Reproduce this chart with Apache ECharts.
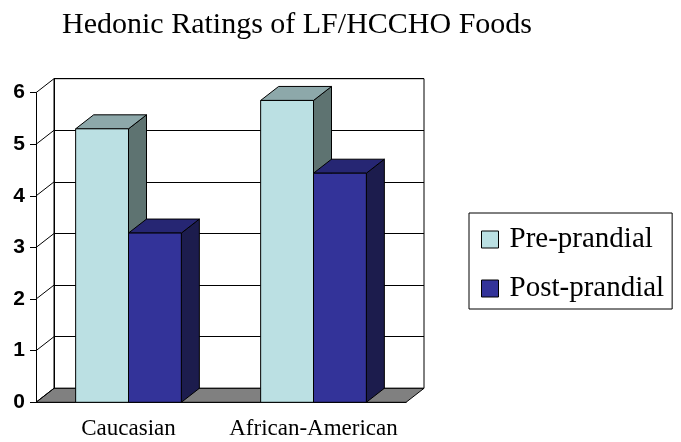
<!DOCTYPE html>
<html>
<head>
<meta charset="utf-8">
<script src="https://cdn.jsdelivr.net/npm/echarts@6/dist/echarts.min.js"></script>
<style>html,body{margin:0;padding:0;background:#fff}#c{width:681px;height:442px}</style>
</head>
<body>
<div id="c"></div>
<script>
var categories = ['Caucasian', 'African-American'];
var preValues = [5.3, 5.85];
var postValues = [3.28, 4.44];
var yTicks = [0, 1, 2, 3, 4, 5, 6];
var seriesNames = ['Pre-prandial', 'Post-prandial'];

var DX = 18, DY = -14;
var styles = [
  {front: '#BBE0E3', top: '#8DA8AA', side: '#5E7371'},
  {front: '#333399', top: '#262673', side: '#1C1C4D'}
];

function barRender(idx) {
  return function (params, api) {
    var c = api.value(0), v = api.value(1);
    var band = api.size([1, 0])[0];
    var w = band / 3.5;
    var p = api.coord([c, v]);
    var b = api.coord([c, 0]);
    var left = idx === 0 ? p[0] - w : p[0];
    var top = p[1], base = b[1];
    var st = styles[idx];
    var stroke = {stroke: '#000', lineWidth: 1};
    return {
      type: 'group',
      children: [
        {type: 'polygon', shape: {points: [[left + w, top], [left + w + DX, top + DY], [left + w + DX, base + DY], [left + w, base]]},
          style: Object.assign({fill: st.side}, stroke)},
        {type: 'polygon', shape: {points: [[left, top], [left + DX, top + DY], [left + w + DX, top + DY], [left + w, top]]},
          style: Object.assign({fill: st.top}, stroke)},
        {type: 'rect', shape: {x: left, y: top, width: w, height: base - top},
          style: Object.assign({fill: st.front}, stroke)}
      ]
    };
  };
}

var chart = echarts.init(document.getElementById('c'), null, {renderer: 'canvas'});
var serif = 'Liberation Serif, Times New Roman, serif';
var sans = 'Liberation Sans, Arial, sans-serif';

chart.setOption({
  animation: false,
  backgroundColor: '#fff',
  title: {
    text: 'Hedonic Ratings of LF/HCCHO Foods',
    left: 57, top: 5,
    textStyle: {fontFamily: serif, fontSize: 30, fontWeight: 'normal', color: '#000'}
  },
  legend: {
    orient: 'vertical',
    left: 469, top: 213,
    padding: [12, 8, 6, 12],
    itemGap: 20,
    itemWidth: 17, itemHeight: 17,
    icon: 'rect',
    borderColor: '#000', borderWidth: 1,
    itemStyle: {borderColor: '#000', borderWidth: 1},
    textStyle: {fontFamily: serif, fontSize: 29, color: '#000', padding: [0, 0, 0, 6]},
    data: seriesNames
  },
  grid: [
    {left: 36, right: 275, top: 92.7, bottom: 39.7},
    {left: 54, right: 257, top: 78.7, bottom: 53.7, show: true, borderColor: '#000', borderWidth: 1, backgroundColor: '#fff'}
  ],
  xAxis: [
    {type: 'category', gridIndex: 0, data: categories,
      axisLine: {lineStyle: {color: '#000', width: 1}},
      axisTick: {length: 7, lineStyle: {color: '#000'}},
      axisLabel: {fontFamily: serif, fontSize: 23, color: '#000', margin: 15, interval: 0},
      splitLine: {show: false}},
    {type: 'category', gridIndex: 1, data: categories, show: false}
  ],
  yAxis: [
    {type: 'value', gridIndex: 0, min: 0, max: 6, interval: 1,
      axisLine: {show: true, lineStyle: {color: '#000', width: 1}},
      axisTick: {show: true, length: 6, lineStyle: {color: '#000'}},
      axisLabel: {fontFamily: sans, fontSize: 21, fontWeight: 'bold', color: '#000', margin: 11},
      splitLine: {show: false}},
    {type: 'value', gridIndex: 1, min: 0, max: 6, interval: 1,
      axisLine: {show: true, lineStyle: {color: '#000', width: 1}},
      axisTick: {show: false}, axisLabel: {show: false},
      splitLine: {show: true, lineStyle: {color: '#000', width: 1}}}
  ],
  series: [
    {type: 'custom', name: 'floor', xAxisIndex: 0, yAxisIndex: 0, z: 1, silent: true,
      data: [[0, 0]],
      renderItem: function (params, api) {
        var cs = params.coordSys;
        var y0 = api.coord([0, 0])[1];
        var x0 = cs.x, x1 = cs.x + cs.width;
        return {type: 'polygon', shape: {points: [[x0, y0], [x1, y0], [x1 + DX, y0 + DY], [x0 + DX, y0 + DY]]},
          style: {fill: '#808080', stroke: '#000', lineWidth: 1}};
      }},
    {type: 'custom', name: 'diag', xAxisIndex: 0, yAxisIndex: 0, z: 1, silent: true,
      data: yTicks.map(function (t) { return [0, t]; }),
      renderItem: function (params, api) {
        var cs = params.coordSys;
        var y = api.coord([0, api.value(1)])[1];
        return {type: 'line', shape: {x1: cs.x, y1: y, x2: cs.x + DX, y2: y + DY},
          style: {stroke: '#000', lineWidth: 1}};
      }},
    {type: 'custom', name: seriesNames[0], xAxisIndex: 0, yAxisIndex: 0, z: 3,
      itemStyle: {color: styles[0].front},
      encode: {x: 0, y: 1},
      data: categories.map(function (c, i) { return [i, preValues[i]]; }),
      renderItem: barRender(0)},
    {type: 'custom', name: seriesNames[1], xAxisIndex: 0, yAxisIndex: 0, z: 4,
      itemStyle: {color: styles[1].front},
      encode: {x: 0, y: 1},
      data: categories.map(function (c, i) { return [i, postValues[i]]; }),
      renderItem: barRender(1)}
  ]
});
</script>
</body>
</html>
